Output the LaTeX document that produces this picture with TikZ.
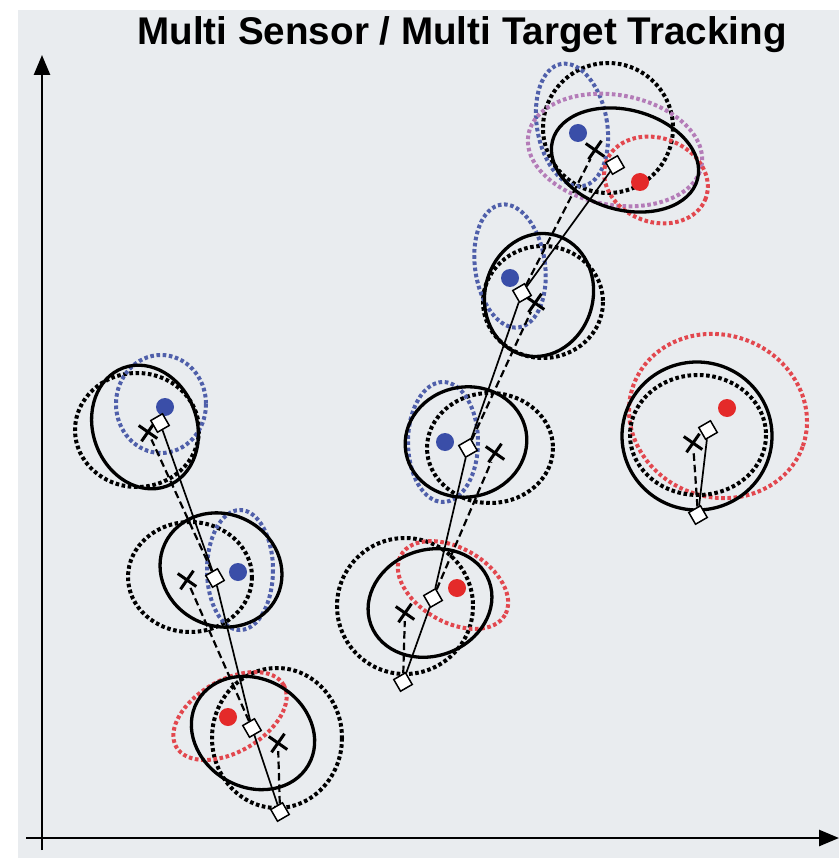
\documentclass[tikz,border=0pt]{standalone}
\usepackage{fontspec}
\setmainfont{Liberation Sans}
\usetikzlibrary{arrows.meta,shapes.misc}

\definecolor{bgc}{HTML}{E9ECEF}
\definecolor{eblue}{HTML}{4F5FAA}
\definecolor{dblue}{HTML}{3A4EA8}
\definecolor{ered}{HTML}{E2474E}
\definecolor{dred}{HTML}{E42A2A}
\definecolor{epurp}{HTML}{B47CB8}

\begin{document}
\begin{tikzpicture}[x=1pt,y=-1pt,
  solidell/.style={draw=black,line width=3.3pt},
  dotell/.style={line width=4pt,dash pattern=on 3.6pt off 2.6pt},
  dotk/.style={dotell,draw=black},
  dotb/.style={dotell,draw=eblue},
  dotr/.style={dotell,draw=ered},
  dotp/.style={dotell,draw=epurp},
  sq/.style={draw=black,fill=white,line width=1.5pt,minimum size=13.5pt,inner sep=0pt,rotate=30},
  xm/.style={cross out,draw=black,line width=3pt,minimum size=13pt,inner sep=0pt,rotate=10},
  bdot/.style={circle,fill=dblue,minimum size=18pt,inner sep=0pt},
  rdot/.style={circle,fill=dred,minimum size=18pt,inner sep=0pt},
  trk/.style={draw=black,line width=1.7pt},
  prd/.style={draw=black,line width=2.2pt,dash pattern=on 7.5pt off 4pt},
  axis/.style={draw=black,line width=2.6pt}
]
\useasboundingbox (0,0) rectangle (839,858);
\fill[bgc] (18,10) rectangle (839,858);

% title
\node[anchor=base,font=\fontsize{38.6}{40}\selectfont\bfseries] (title) at (462,45) {Multi Sensor / Multi Target Tracking};

% axes
\coordinate (yb) at (42,850);
\coordinate (yt) at (42,55);
\coordinate (xl) at (26,838);
\coordinate (xr) at (839,838);
\draw[axis,-{Triangle[length=20pt,width=16pt]}] (yb) -- (yt);
\draw[axis,-{Triangle[length=20pt,width=16pt]}] (xl) -- (xr);

% --- left target: covariance ellipses
\draw[dotk] (137,430) ellipse [x radius=62, y radius=57];
\draw[dotb] (161,404) ellipse [x radius=45, y radius=49];
\draw[solidell,rotate around={20:(145,427)}] (145,427) ellipse [x radius=52, y radius=63];

\draw[dotk] (190,577) ellipse [x radius=62, y radius=55];
\draw[dotb] (240,570) ellipse [x radius=33, y radius=60];
\draw[solidell,rotate around={-25:(221,570)}] (221,570) ellipse [x radius=62, y radius=56];

\draw[dotk] (277,738) ellipse [x radius=65, y radius=70];
\draw[dotr,rotate around={30:(230,716)}] (230,716) ellipse [x radius=62, y radius=36];
\draw[solidell,rotate around={-30:(253,733)}] (253,733) ellipse [x radius=64, y radius=54];

% --- middle target
\draw[dotk] (405,606) ellipse [x radius=68, y radius=68];
\draw[dotr,rotate around={-30:(453,585)}] (453,585) ellipse [x radius=60, y radius=37];
\draw[solidell,rotate around={20:(430,603)}] (430,603) ellipse [x radius=63, y radius=53];

\draw[dotk] (490,448) ellipse [x radius=63, y radius=55];
\draw[dotb] (443,442) ellipse [x radius=35, y radius=60];
\draw[solidell,rotate around={10:(466,442)}] (466,442) ellipse [x radius=61, y radius=55];

\draw[dotk] (543,302) ellipse [x radius=60, y radius=56];
\draw[dotb,rotate around={8:(510,266)}] (510,266) ellipse [x radius=35, y radius=62];
\draw[solidell,rotate around={-15:(539,295)}] (539,295) ellipse [x radius=54, y radius=62];

\draw[dotk] (608,128) ellipse [x radius=65, y radius=65];
\draw[dotb,rotate around={10:(572,125)}] (572,125) ellipse [x radius=35, y radius=62];
\draw[dotp,rotate around={-10:(615,150)}] (615,150) ellipse [x radius=88, y radius=55];
\draw[dotr,rotate around={-20:(656,180)}] (656,180) ellipse [x radius=53, y radius=42];
\draw[solidell,rotate around={-15:(625,160)}] (625,160) ellipse [x radius=75, y radius=50];

% --- right target
\draw[dotr,rotate around={-20:(718,416)}] (718,416) ellipse [x radius=90, y radius=81];
\draw[dotk] (698,435) ellipse [x radius=68, y radius=60];
\draw[solidell] (697,436) ellipse [x radius=75, y radius=74];

% --- sensor reports
\node[bdot] (bA) at (165,407) {};
\node[bdot] (bB) at (238,572) {};
\node[rdot] (rC) at (228,717) {};
\node[rdot] (rE) at (457,588) {};
\node[bdot] (bD) at (445,442) {};
\node[bdot] (bF) at (510,278) {};
\node[bdot] (bG) at (578,133) {};
\node[rdot] (rG) at (640,182) {};
\node[rdot] (rH) at (727,408) {};

% --- predictions
\node[xm] (xA) at (148,432) {};
\node[xm] (xB) at (187,580) {};
\node[xm] (xC) at (278,743) {};
\node[xm] (xE) at (405,613) {};
\node[xm] (xD) at (495,453) {};
\node[xm] (xF) at (535,303) {};
\node[xm] (xG) at (595,150) {};
\node[xm] (xH) at (693,443) {};

% --- track estimates
\node[sq] (s0) at (280,812) {};
\node[sq] (sC) at (252,728) {};
\node[sq] (sB) at (215,578) {};
\node[sq] (sA) at (160,423) {};
\node[sq] (s1) at (403,682) {};
\node[sq] (sE) at (433,598) {};
\node[sq] (sD) at (468,448) {};
\node[sq] (sF) at (522,293) {};
\node[sq] (sG) at (615,165) {};
\node[sq] (s2) at (698,515) {};
\node[sq] (sH) at (708,430) {};

% --- tracks
\draw[trk] (s0) -- (sC) -- (sB) -- (sA);
\draw[trk] (s1) -- (sE) -- (sD) -- (sF) -- (sG);
\draw[trk] (s2) -- (sH);

\draw[prd] (s0) -- (xC);
\draw[prd] (sC) -- (xB);
\draw[prd] (sB) -- (xA);
\draw[prd] (s1) -- (xE);
\draw[prd] (sE) -- (xD);
\draw[prd] (sD) -- (xF);
\draw[prd] (sF) -- (xG);
\draw[prd] (s2) -- (xH);
\end{tikzpicture}
\end{document}
